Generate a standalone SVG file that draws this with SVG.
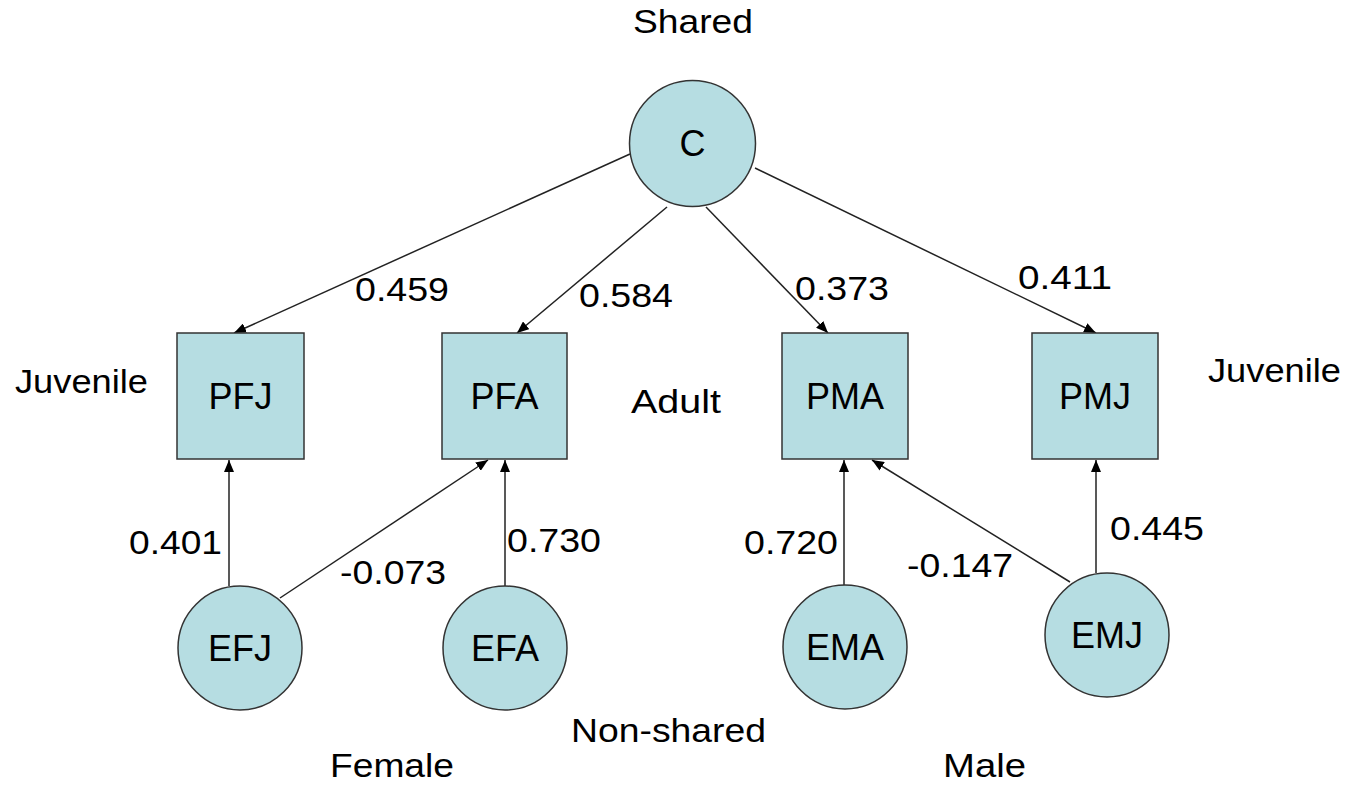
<svg xmlns="http://www.w3.org/2000/svg" width="1353" height="792" viewBox="0 0 1353 792">
  <style>
    .node { fill: #b6dde2; stroke: #333; stroke-width: 1.5; }
    .nlabel { font-family: "Liberation Sans", Arial, sans-serif; font-size: 36px; fill: #000; text-anchor: middle; }
    .label { font-family: "Liberation Sans", Arial, sans-serif; font-size: 34px; fill: #000; }
    .edge { stroke: #222; stroke-width: 1.5; fill: none; marker-end: url(#ah); }
  </style>
  <defs>
    <marker id="ah" markerWidth="12" markerHeight="10" refX="12" refY="5" orient="auto" markerUnits="userSpaceOnUse">
      <path d="M0,0 L12,5 L0,10 z" fill="#000"/>
    </marker>
  </defs>
  <rect width="1353" height="792" fill="#fff"/>

  <!-- connectors -->
  <g id="connectors">
    <line class="edge" x1="630" y1="154" x2="234" y2="333"/>
    <line class="edge" x1="667" y1="207" x2="517" y2="333"/>
    <line class="edge" x1="706" y1="207" x2="828" y2="333"/>
    <line class="edge" x1="755" y1="168" x2="1096" y2="333"/>
    <line class="edge" x1="229" y1="586" x2="229" y2="460"/>
    <line class="edge" x1="280" y1="598" x2="488" y2="460"/>
    <line class="edge" x1="505" y1="586" x2="505" y2="460"/>
    <line class="edge" x1="844" y1="585" x2="844" y2="460"/>
    <line class="edge" x1="1070" y1="582" x2="872" y2="460"/>
    <line class="edge" x1="1096" y1="573" x2="1096" y2="460"/>
  </g>

  <!-- shared factor -->
  <g id="C">
    <circle class="node" cx="692.5" cy="143.5" r="63"/>
    <text class="nlabel" x="692.5" y="156">C</text>
  </g>

  <!-- phenotypes -->
  <g id="PFJ">
    <rect class="node" x="177" y="333" width="127" height="126"/>
    <text class="nlabel" x="240.5" y="409">PFJ</text>
  </g>
  <g id="PFA">
    <rect class="node" x="442" y="333" width="125" height="126"/>
    <text class="nlabel" x="504.5" y="409">PFA</text>
  </g>
  <g id="PMA">
    <rect class="node" x="782" y="333" width="126" height="126"/>
    <text class="nlabel" x="845" y="409">PMA</text>
  </g>
  <g id="PMJ">
    <rect class="node" x="1032" y="333" width="126" height="126"/>
    <text class="nlabel" x="1095" y="409">PMJ</text>
  </g>

  <!-- non-shared factors -->
  <g id="EFJ">
    <circle class="node" cx="240" cy="648" r="62"/>
    <text class="nlabel" x="240" y="661">EFJ</text>
  </g>
  <g id="EFA">
    <circle class="node" cx="505" cy="648" r="62"/>
    <text class="nlabel" x="505" y="661">EFA</text>
  </g>
  <g id="EMA">
    <circle class="node" cx="845" cy="647" r="62"/>
    <text class="nlabel" x="845" y="660">EMA</text>
  </g>
  <g id="EMJ">
    <circle class="node" cx="1107" cy="635" r="62"/>
    <text class="nlabel" x="1107" y="648">EMJ</text>
  </g>

  <!-- path coefficients -->
  <g id="coefficients">
    <text class="label" x="355" y="301" textLength="94" lengthAdjust="spacingAndGlyphs">0.459</text>
    <text class="label" x="579" y="307" textLength="94" lengthAdjust="spacingAndGlyphs">0.584</text>
    <text class="label" x="795" y="300" textLength="94" lengthAdjust="spacingAndGlyphs">0.373</text>
    <text class="label" x="1018" y="289" textLength="94" lengthAdjust="spacingAndGlyphs">0.411</text>
    <text class="label" x="129" y="554" textLength="93" lengthAdjust="spacingAndGlyphs">0.401</text>
    <text class="label" x="340" y="584" textLength="106" lengthAdjust="spacingAndGlyphs">-0.073</text>
    <text class="label" x="507" y="552" textLength="94" lengthAdjust="spacingAndGlyphs">0.730</text>
    <text class="label" x="744" y="554" textLength="94" lengthAdjust="spacingAndGlyphs">0.720</text>
    <text class="label" x="907" y="577" textLength="106" lengthAdjust="spacingAndGlyphs">-0.147</text>
    <text class="label" x="1110" y="540" textLength="94" lengthAdjust="spacingAndGlyphs">0.445</text>
  </g>

  <!-- group labels -->
  <g id="labels">
    <text class="label" x="633" y="33" textLength="120" lengthAdjust="spacingAndGlyphs">Shared</text>
    <text class="label" x="15" y="393" textLength="133" lengthAdjust="spacingAndGlyphs">Juvenile</text>
    <text class="label" x="1208" y="382" textLength="133" lengthAdjust="spacingAndGlyphs">Juvenile</text>
    <text class="label" x="631" y="413" textLength="90" lengthAdjust="spacingAndGlyphs">Adult</text>
    <text class="label" x="571" y="742" textLength="195" lengthAdjust="spacingAndGlyphs">Non-shared</text>
    <text class="label" x="330" y="777" textLength="124" lengthAdjust="spacingAndGlyphs">Female</text>
    <text class="label" x="943" y="777" textLength="83" lengthAdjust="spacingAndGlyphs">Male</text>
  </g>
</svg>
